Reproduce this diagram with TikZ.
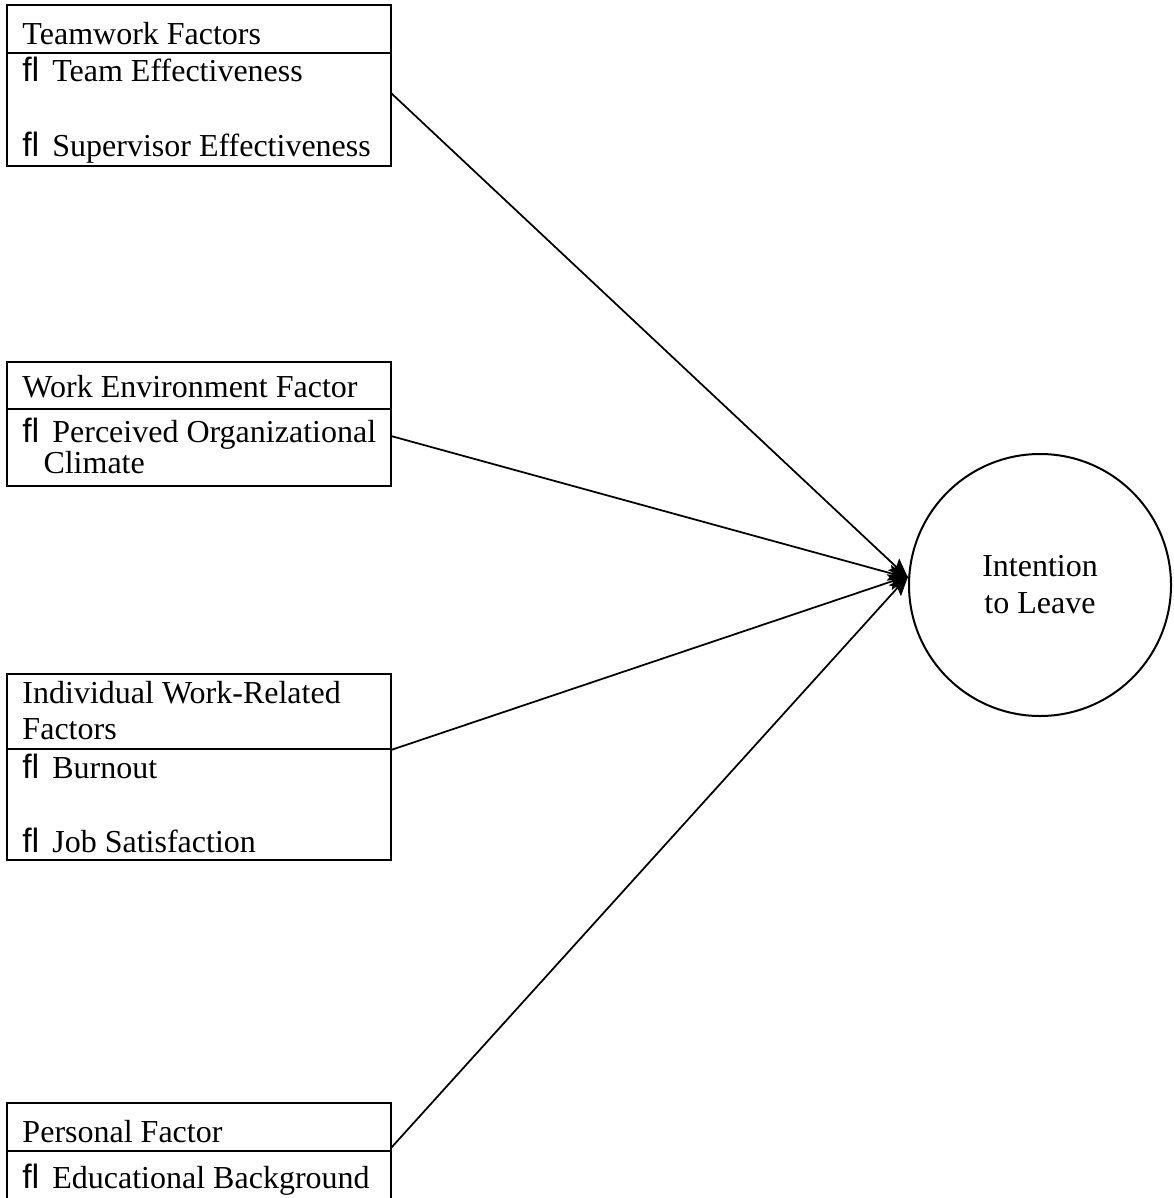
\documentclass[tikz,border=0pt]{standalone}
\usepackage{fontspec}
\setmainfont{Liberation Serif}
\newfontfamily\bulletfont{Liberation Sans}
\usetikzlibrary{arrows.meta}
\newcommand{\flmark}{{\bulletfont\fontsize{13.5}{14.8}\selectfont ﬂ}\hspace{5.2pt}}
\begin{document}
\begin{tikzpicture}[x=0.4pt, y=-0.4pt, font=\fontsize{12.8}{14.8}\selectfont,
  txt/.style={anchor=base west, inner sep=0pt},
  frame/.style={line width=1pt},
  arr/.style={line width=0.7pt, -{Stealth[length=8pt, width=6.5pt, inset=1.5pt]}}]
\clip (0,0) rectangle (1173,1198);
\draw[frame] (7,5) rectangle (391,166);
\draw[frame] (7,53) -- (391,53);
\node[txt] (tw) at (22,45) {Teamwork Factors};
\node[txt] (tweff) at (22,82) {\flmark Team Effectiveness};
\node[txt] (sveff) at (22,157) {\flmark Supervisor Effectiveness};
\draw[frame] (7,362) rectangle (391,486);
\draw[frame] (7,409) -- (391,409);
\node[txt] (we) at (22,397) {Work Environment Factor};
\node[txt] (poc) at (22,442) {\flmark Perceived Organizational};
\node[txt] (poc2) at (43,473) {Climate};
\draw[frame] (7,674) rectangle (391,860);
\draw[frame] (7,749) -- (391,749);
\node[txt] (iw) at (22,703) {Individual Work-Related};
\node[txt] (iw2) at (22,739) {Factors};
\node[txt] (bo) at (22,778) {\flmark Burnout};
\node[txt] (js) at (22,852) {\flmark Job Satisfaction};
\draw[frame] (7,1103) rectangle (391,1230);
\draw[frame] (7,1151) -- (391,1151);
\node[txt] (pf) at (22,1142) {Personal Factor};
\node[txt] (eb) at (22,1188) {\flmark Educational Background};
\node[circle, draw, line width=0.8pt, minimum size=104.8pt, inner sep=0pt, align=center] (leave) at (1040,585) {Intention\\to Leave};
\coordinate (twout) at (391,93);
\coordinate (weout) at (391,436);
\coordinate (iwout) at (391,750);
\coordinate (pfout) at (391,1148);
\draw[arr] (twout) -- (leave.177);
\draw[arr] (weout) -- (leave.177);
\draw[arr] (iwout) -- (leave.176);
\draw[arr] (pfout) -- (leave.176);
\end{tikzpicture}
\end{document}
